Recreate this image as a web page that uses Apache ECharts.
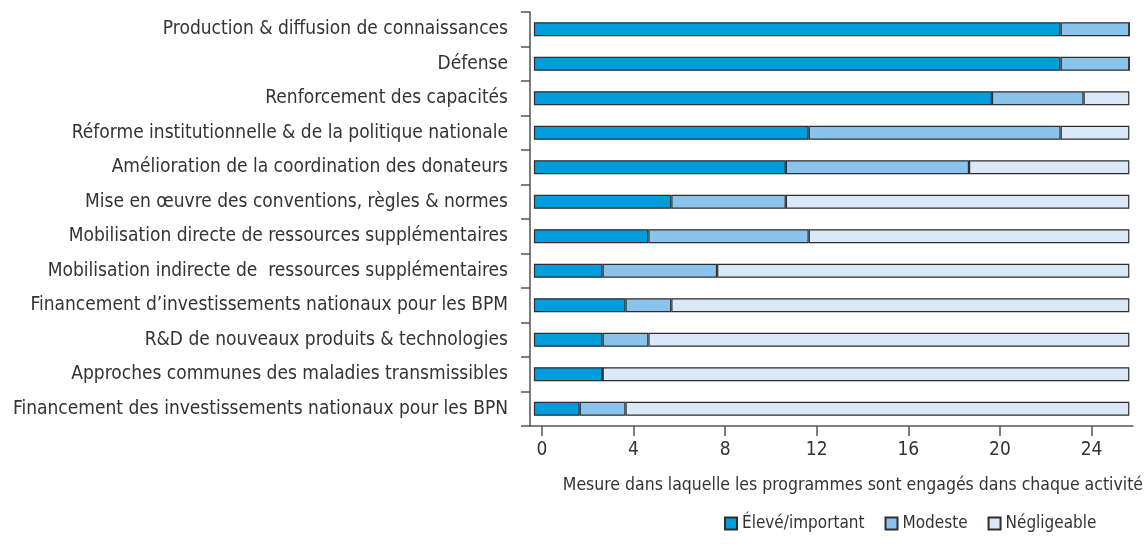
<!DOCTYPE html>
<html>

<head>
    <meta charset="utf-8" />
    <title>ECharts</title>
    <script src="https://cdn.jsdelivr.net/npm/echarts@6.0.0/dist/echarts.min.js"></script>
    <style>
        body { margin: 0; background: #fff; }
    </style>
</head>

<body>
    <div id="main" style="width: 1145px;height:544px;"></div>
    <script type="text/javascript">
        // catégories, du haut vers le bas
        const categories = [
            'Production & diffusion de connaissances',
            'Défense',
            'Renforcement des capacités',
            'Réforme institutionnelle & de la politique nationale',
            'Amélioration de la coordination des donateurs',
            'Mise en œuvre des conventions, règles & normes',
            'Mobilisation directe de ressources supplémentaires',
            'Mobilisation indirecte de  ressources supplémentaires',
            'Financement d’investissements nationaux pour les BPM',
            'R&D de nouveaux produits & technologies',
            'Approches communes des maladies transmissibles',
            'Financement des investissements nationaux pour les BPN'
        ];
        const eleve = [23, 23, 20, 12, 11, 6, 5, 3, 4, 3, 3, 2];
        const modeste = [3, 3, 4, 11, 8, 5, 7, 5, 2, 2, 0, 2];
        const negligeable = [0, 0, 2, 3, 7, 15, 14, 18, 20, 21, 23, 22];
        const seriesNames = ['Élevé/important', 'Modeste', 'Négligeable'];
        const tickValues = [0, 4, 8, 12, 16, 20, 24];

        const font = "'Liberation Sans Narrow', 'DejaVu Sans Condensed', sans-serif";
        const colors = ['#009ddc', '#8ac4ec', '#dae8f7'];

        var myChart = echarts.init(document.getElementById('main'));

        function barSeries(name, data, i) {
            return {
                name: name,
                type: 'bar',
                stack: 'total',
                xAxisIndex: 1,
                barWidth: 14,
                itemStyle: {
                    color: colors[i],
                    borderColor: '#2e2e2e',
                    borderWidth: 1.2
                },
                data: data
            };
        }

        var option = {
            animation: false,
            textStyle: { fontFamily: font },
            title: {
                text: 'Mesure dans laquelle les programmes sont engagés dans chaque activité',
                right: -3,
                top: 471,
                textStyle: { fontFamily: font, fontWeight: 'normal', fontSize: 17.5, color: '#333' }
            },
            legend: {
                data: seriesNames,
                left: 719,
                top: 510,
                width: 425,
                itemWidth: 12,
                itemHeight: 12,
                itemGap: 20,
                icon: 'rect',
                textStyle: { fontFamily: font, fontSize: 17, color: '#333' }
            },
            grid: {
                left: 530,
                right: 12,
                top: 12,
                bottom: 118,
                outerBoundsMode: 'none'
            },
            xAxis: [{
                // axe visible, graduations décalées comme dans l'original
                type: 'value',
                position: 'bottom',
                min: -0.52,
                max: 25.81,
                axisLine: { show: true, onZero: false, lineStyle: { color: '#555', width: 1.5 } },
                axisTick: { show: true, length: 10, customValues: tickValues, lineStyle: { color: '#555', width: 1.5 } },
                axisLabel: { customValues: tickValues, margin: 15, fontSize: 19, color: '#333', fontFamily: font },
                splitLine: { show: false }
            }, {
                // axe des barres
                type: 'value',
                position: 'bottom',
                show: false,
                min: -0.17,
                max: 26.16,
                splitLine: { show: false }
            }],
            yAxis: {
                type: 'category',
                inverse: true,
                data: categories,
                axisLine: { show: true, onZero: false, lineStyle: { color: '#555', width: 1.5 } },
                axisTick: { show: true, length: 9, lineStyle: { color: '#555', width: 1.5 } },
                axisLabel: { margin: 22, fontSize: 19, color: '#333', fontFamily: font }
            },
            series: [
                barSeries(seriesNames[0], eleve, 0),
                barSeries(seriesNames[1], modeste, 1),
                barSeries(seriesNames[2], negligeable, 2)
            ]
        };

        myChart.setOption(option);
    </script>
</body>

</html>
